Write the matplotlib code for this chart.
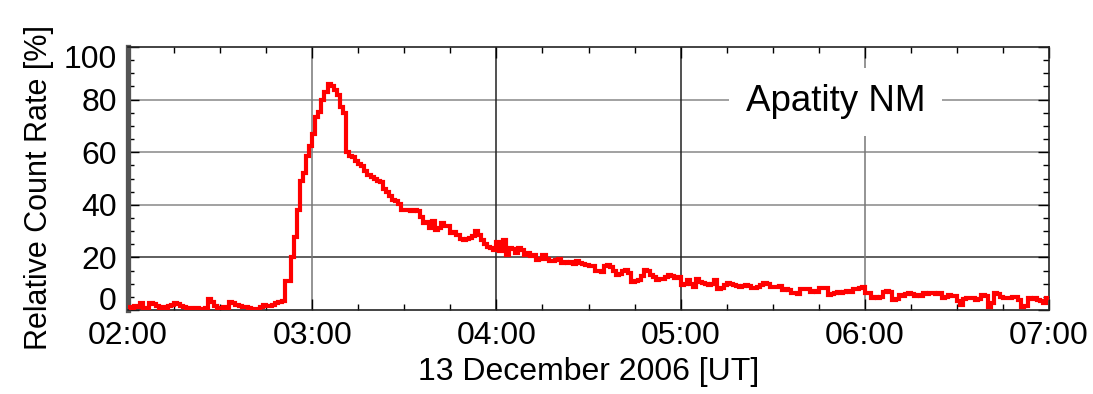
import numpy as np
import matplotlib
matplotlib.use("Agg")
import matplotlib.pyplot as plt
from matplotlib.ticker import FixedLocator, MultipleLocator
from matplotlib.transforms import ScaledTranslation

plt.rcParams['font.family'] = ['Liberation Sans', 'DejaVu Sans']

# ---- data: 1-minute relative count rate, Apatity NM, 13 Dec 2006, 02:00-07:00 UT
start_hour = 2.0
step_minutes = 1
relative_rate = [
    1.0, 0.5, 1.5, 1.0, 2.5, 0.3, 0.8, 2.8, 2.2, 1.5,
    0.5, 1.0, 0.8, 1.5, 2.0, 2.8, 2.2, 1.6, 1.2, 0.8,
    0.6, 0.5, 0.8, 0.3, 0.2, 0.6, 4.0, 3.2, 1.5, 0.6,
    0.2, 1.0, 0.5, 3.2, 2.5, 1.8, 1.6, 1.0, 1.2, 0.8,
    0.3, 0.2, 0.4, 1.0, 2.0, 1.5, 1.6, 1.8, 2.5, 3.0,
    3.5, 11.0, 11.0, 20.0, 27.6, 38.0, 49.0, 52.0, 58.6, 62.5,
    67.0, 73.4, 75.3, 80.0, 83.0, 86.0, 85.0, 83.5, 81.6, 77.0,
    75.0, 60.0, 58.6, 58.0, 56.5, 55.5, 54.8, 53.0, 51.5, 50.4,
    49.7, 49.0, 48.5, 46.0, 44.7, 43.3, 42.0, 41.4, 40.2, 38.0,
    38.0, 38.0, 37.8, 38.0, 37.5, 35.2, 33.2, 33.5, 31.3, 33.8,
    30.6, 31.0, 33.2, 31.9, 32.0, 29.4, 29.8, 28.5, 27.1, 26.8,
    27.0, 27.5, 28.0, 29.9, 28.5, 26.8, 25.0, 24.0, 23.5, 23.0,
    26.0, 22.3, 26.8, 21.0, 23.7, 23.2, 21.8, 23.7, 23.0, 21.0,
    21.5, 20.4, 20.8, 19.1, 19.5, 21.0, 19.5, 18.5, 18.8, 19.1,
    19.5, 18.0, 18.3, 17.8, 18.2, 17.5, 18.5, 18.0, 17.6, 17.2,
    16.6, 16.8, 14.7, 15.0, 14.5, 16.8, 17.0, 16.5, 15.0, 13.4,
    13.8, 15.0, 15.2, 14.0, 10.8, 11.2, 11.5, 13.0, 15.3, 15.0,
    13.4, 12.5, 11.5, 11.8, 11.7, 12.5, 13.4, 12.8, 12.2, 12.7,
    9.4, 9.8, 11.5, 10.0, 8.9, 11.7, 10.8, 10.2, 10.0, 9.4,
    9.8, 11.5, 8.0, 8.2, 9.5, 10.4, 10.0, 9.4, 9.2, 8.9,
    9.0, 9.4, 9.2, 8.3, 8.5, 8.9, 9.5, 10.4, 9.8, 8.9,
    8.7, 8.9, 9.0, 7.6, 7.8, 7.5, 6.4, 6.6, 6.2, 7.9,
    8.0, 7.8, 7.0, 7.2, 6.8, 8.4, 8.2, 8.5, 5.7, 6.0,
    6.6, 6.8, 6.5, 7.0, 7.2, 6.8, 8.0, 7.8, 8.2, 8.9,
    6.4, 6.6, 4.5, 4.8, 4.6, 5.0, 7.0, 7.2, 6.8, 3.8,
    4.0, 5.7, 5.5, 5.9, 6.4, 6.2, 5.4, 5.6, 5.2, 6.4,
    6.2, 6.6, 6.4, 6.2, 6.5, 4.5, 4.8, 5.7, 5.5, 5.2,
    3.5, 1.9, 4.2, 4.5, 4.6, 4.4, 3.8, 4.2, 5.7, 5.5,
    1.3, 2.5, 6.4, 6.0, 5.1, 4.5, 4.4, 4.6, 5.1, 5.0,
    3.8, 1.3, 1.5, 4.5, 4.3, 4.6, 3.8, 3.6, 2.5, 4.5,
]
x_ticks = [2, 3, 4, 5, 6, 7]
x_tick_labels = ["02:00", "03:00", "04:00", "05:00", "06:00", "07:00"]
y_ticks = [0, 20, 40, 60, 80, 100]
y_tick_labels = ["0", "20", "40", "60", "80", "100"]
station_label = "Apatity NM"
x_label = "13 December 2006 [UT]"
y_label = "Relative Count Rate [%]"

# ---- figure
fig = plt.figure(figsize=(10.93, 3.94), dpi=100)
ax = fig.add_axes([128 / 1093, 84 / 394, 921 / 1093, 263 / 394])

edges = start_hour + np.arange(len(relative_rate) + 1) * step_minutes / 60.0
ax.stairs(relative_rate, edges, color='#ff0000', lw=3.0, baseline=None, zorder=5)

ax.set_xlim(2, 7)
ax.set_ylim(0, 100)

# grid lines (mixed shades as in the original)
for yv, col in [(20, '#333333'), (40, '#888888'), (60, '#888888'), (80, '#888888')]:
    ax.axhline(yv, color=col, lw=1.1, zorder=1)
for xv, col in [(3, '#777777'), (4, '#222222'), (5, '#222222'), (6, '#777777')]:
    ax.axvline(xv, color=col, lw=1.1, zorder=1)

ax.xaxis.set_major_locator(FixedLocator(x_ticks))
ax.set_xticklabels(x_tick_labels)
ax.xaxis.set_minor_locator(MultipleLocator(0.25))
ax.yaxis.set_major_locator(FixedLocator(y_ticks))
ax.set_yticklabels(y_tick_labels)
ax.yaxis.set_minor_locator(MultipleLocator(5))

ax.tick_params(which='both', direction='in', top=True, right=True,
               labelsize=23, color='black')
ax.tick_params(which='major', length=8, width=1, pad=8)
ax.tick_params(which='minor', length=4.5, width=1)

# shift the end labels inwards as in the original
labels = ax.get_yticklabels()
labels[0].set_transform(labels[0].get_transform() +
                        ScaledTranslation(0, 11 / 100, fig.dpi_scale_trans))
labels[-1].set_transform(labels[-1].get_transform() +
                         ScaledTranslation(0, -9 / 100, fig.dpi_scale_trans))

for side in ['top', 'right', 'bottom']:
    ax.spines[side].set_linewidth(1.2)
    ax.spines[side].set_color('#222222')
ax.spines['left'].set_linewidth(3.8)
ax.spines['left'].set_color('#555555')

ax.set_xlabel(x_label, fontsize=23, labelpad=4)
ax.set_ylabel(y_label, fontsize=22)
ax.yaxis.set_label_coords(-(128 - 54) / 921, (310 - 188) / 263)

ax.text(5.84, 79.2, station_label, fontsize=26.5, ha='center', va='center',
        zorder=4, bbox=dict(facecolor='white', edgecolor='none', pad=12))

fig.savefig('out.png', dpi=100)
